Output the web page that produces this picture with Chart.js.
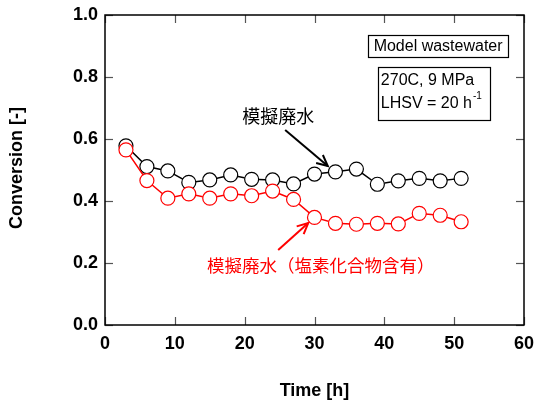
<!DOCTYPE html>
<html><head><meta charset="utf-8">
<script src="https://cdn.jsdelivr.net/npm/chart.js@4"></script>
<style>html,body{margin:0;padding:0;background:#fff}</style>
</head><body>
<canvas id="c" width="535" height="406"></canvas>
<script>
const timeHours = [3,6,9,12,15,18,21,24,27,30,33,36,39,42,45,48,51];
const modelWastewater = [0.578,0.511,0.497,0.460,0.468,0.484,0.470,0.468,0.455,0.487,0.494,0.503,0.454,0.465,0.473,0.465,0.473];
const chlorideWastewater = [0.565,0.466,0.409,0.423,0.409,0.423,0.417,0.432,0.405,0.347,0.328,0.325,0.328,0.326,0.360,0.354,0.333];
const xTickValues = [0,10,20,30,40,50,60];
const yTickValues = [0,0.2,0.4,0.6,0.8,1.0];
const labelBlack = '模擬廃水';
const labelRed = '模擬廃水（塩素化合物含有）';
const boxTitle = 'Model wastewater';
const condLine1 = '270C, 9 MPa';
const condLine2 = 'LHSV = 20 h';
const xTitle = 'Time [h]';
const yTitle = 'Conversion [-]';

const sans = '"Liberation Sans", Arial, sans-serif';
const cjk = '"Noto Sans CJK JP", sans-serif';

function pts(vals){ return timeHours.map((t,i)=>({x:t,y:vals[i]})); }

function arrow(ctx, x1,y1,x2,y2,color){
  ctx.save();
  ctx.strokeStyle=color; ctx.lineWidth=2;
  ctx.beginPath(); ctx.moveTo(x1,y1); ctx.lineTo(x2,y2); ctx.stroke();
  const a=Math.atan2(y2-y1,x2-x1), L=12, s=0.45;
  ctx.beginPath();
  ctx.moveTo(x2-L*Math.cos(a-s), y2-L*Math.sin(a-s));
  ctx.lineTo(x2,y2);
  ctx.lineTo(x2-L*Math.cos(a+s), y2-L*Math.sin(a+s));
  ctx.stroke();
  ctx.restore();
}

const framePlugin = {
  id:'frame',
  beforeDatasetsDraw(chart){
    const {ctx, chartArea:a, scales:{x,y}} = chart;
    ctx.save();
    ctx.strokeStyle='#555'; ctx.lineWidth=1.2;
    const L=8;
    xTickValues.forEach(v=>{
      const px=Math.round(x.getPixelForValue(v))+0.5;
      ctx.beginPath(); ctx.moveTo(px,a.bottom); ctx.lineTo(px,a.bottom-L); ctx.stroke();
      ctx.beginPath(); ctx.moveTo(px,a.top); ctx.lineTo(px,a.top+L); ctx.stroke();
    });
    yTickValues.forEach(v=>{
      const py=Math.round(y.getPixelForValue(v))+0.5;
      ctx.beginPath(); ctx.moveTo(a.left,py); ctx.lineTo(a.left+L,py); ctx.stroke();
      ctx.beginPath(); ctx.moveTo(a.right,py); ctx.lineTo(a.right-L,py); ctx.stroke();
    });
    ctx.strokeStyle='#000'; ctx.lineWidth=1.5;
    ctx.strokeRect(a.left,a.top,a.right-a.left,a.bottom-a.top);
    ctx.restore();
  },
  afterDraw(chart){
    const {ctx, chartArea:a, scales:{x,y}} = chart;
    const X=v=>x.getPixelForValue(v), Y=v=>y.getPixelForValue(v);
    ctx.save();
    // axis titles
    ctx.fillStyle='#000';
    ctx.font='bold 18px '+sans;
    ctx.textAlign='center'; ctx.textBaseline='middle';
    ctx.fillText(xTitle, (a.left+a.right)/2, 391);
    ctx.save(); ctx.translate(17,(a.top+a.bottom)/2 - 2); ctx.rotate(-Math.PI/2);
    ctx.fillText(yTitle,0,0); ctx.restore();
    // annotation labels
    ctx.font='18px '+cjk;
    ctx.fillStyle='#000';
    ctx.fillText(labelBlack, X(24.8), Y(0.673));
    ctx.fillStyle='#ff0000';
    ctx.font='17.5px '+cjk;
    ctx.fillText(labelRed, X(30.9), Y(0.194));
    arrow(ctx, X(25.8),Y(0.629), X(31.9),Y(0.513), '#000');
    arrow(ctx, X(24.8),Y(0.242), X(29.1),Y(0.329), '#ff0000');
    // boxes
    ctx.strokeStyle='#000'; ctx.lineWidth=1.2; ctx.fillStyle='#000';
    ctx.strokeRect(Math.round(X(37.7))+0.5, Math.round(Y(0.935))+0.5, Math.round(X(57.7)-X(37.7)), Math.round(Y(0.865)-Y(0.935)));
    ctx.font='16px '+sans; ctx.textAlign='center';
    ctx.fillText(boxTitle, (X(37.7)+X(57.7))/2, (Y(0.935)+Y(0.865))/2+1);
    ctx.strokeRect(Math.round(X(39.1))+0.5, Math.round(Y(0.833))+0.5, Math.round(X(55.2)-X(39.1)), Math.round(Y(0.661)-Y(0.833)));
    ctx.textAlign='left';
    ctx.fillText(condLine1, X(39.5), Y(0.789));
    ctx.fillText(condLine2, X(39.5), Y(0.715));
    const w=ctx.measureText(condLine2).width;
    ctx.font='10px '+sans;
    ctx.fillText('-1', X(39.5)+w+1, Y(0.715)-7);
    ctx.restore();
  }
};

new Chart(document.getElementById('c'), {
  type:'line',
  data:{datasets:[
    {label:labelRed, data:pts(chlorideWastewater), borderColor:'#ff0000', backgroundColor:'#ffffff',
     borderWidth:1.5, pointRadius:7, pointBorderWidth:1.2, pointBackgroundColor:'#ffffff', pointBorderColor:'#ff0000', tension:0},
    {label:labelBlack, data:pts(modelWastewater), borderColor:'#000000', backgroundColor:'#ffffff',
     borderWidth:1.5, pointRadius:7, pointBorderWidth:1.2, pointBackgroundColor:'#ffffff', pointBorderColor:'#000000', tension:0}
  ]},
  options:{
    responsive:false, animation:false, devicePixelRatio:1,
    layout:{padding:{left:0,right:11,top:15,bottom:0}},
    plugins:{legend:{display:false}, tooltip:{enabled:false}},
    scales:{
      x:{type:'linear', min:0, max:60,
         afterFit(s){ s.height=81; s.paddingLeft=0; s.paddingRight=0; },
         afterBuildTicks(s){ s.ticks=xTickValues.map(v=>({value:v})); },
         grid:{display:false, drawTicks:false}, border:{display:false},
         ticks:{padding:8, color:'#000', font:{family:sans, size:18, weight:'bold'}, maxRotation:0}},
      y:{type:'linear', min:0, max:1,
         afterFit(s){ s.width=105; s.paddingTop=0; s.paddingBottom=0; },
         afterBuildTicks(s){ s.ticks=yTickValues.map(v=>({value:v})); },
         grid:{display:false, drawTicks:false}, border:{display:false},
         ticks:{padding:7, color:'#000', font:{family:sans, size:18, weight:'bold'}, callback:v=>Number(v).toFixed(1)}}
    }
  },
  plugins:[framePlugin]
});
</script>
</body></html>
